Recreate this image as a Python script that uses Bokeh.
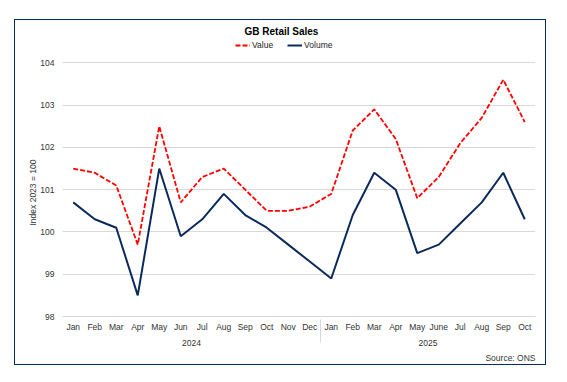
from bokeh.plotting import figure
from bokeh.models import FactorRange, Legend, LegendItem, FixedTicker, Title
from bokeh.embed import file_html
from bokeh.resources import INLINE

years = ["2024"] * 12 + ["2025"] * 10
months = ["Jan", "Feb", "Mar", "Apr", "May", "Jun", "Jul", "Aug", "Sep", "Oct", "Nov", "Dec",
          "Jan", "Feb", "Mar", "Apr", "May", "June", "Jul", "Aug", "Sep", "Oct"]
value = [101.5, 101.4, 101.1, 99.7, 102.5, 100.7, 101.3, 101.5, 101.0, 100.5, 100.5, 100.6,
         100.9, 102.4, 102.9, 102.2, 100.8, 101.3, 102.1, 102.7, 103.6, 102.6]
volume = [100.7, 100.3, 100.1, 98.5, 101.5, 99.9, 100.3, 100.9, 100.4, 100.1, 99.7, 99.3,
          98.9, 100.4, 101.4, 101.0, 99.5, 99.7, 100.2, 100.7, 101.4, 100.3]
y_ticks = [98, 99, 100, 101, 102, 103, 104]

FONT = "Liberation Sans"
NAVY = "#0b2a5c"
RED = "#ff0000"

factors = list(zip(years, months))

p = figure(width=532, height=346, output_backend="svg", toolbar_location=None,
           x_range=FactorRange(*factors, factor_padding=0, group_padding=0, range_padding=0),
           y_range=(98, 104.6),
           min_border_left=47, min_border_right=12, min_border_top=17, min_border_bottom=50)
p.styles = {"border": "1.5px solid " + NAVY, "position": "relative", "left": "14px", "top": "19px"}

p.title.text = "GB Retail Sales"
p.title.align = "left"
p.title.offset = 182
p.title.standoff = 2
p.title.text_font = FONT
p.title.text_font_size = "10px"
p.title.text_font_style = "bold"
p.title.text_color = "#000000"

r_val = p.line(factors, value, line_color=RED, line_width=1.8, line_dash="5 2")
r_vol = p.line(factors, volume, line_color=NAVY, line_width=2)

legend = Legend(items=[LegendItem(label="Value", renderers=[r_val]),
                       LegendItem(label="Volume", renderers=[r_vol])],
                orientation="horizontal", location=(173, 266),
                label_text_font=FONT, label_text_font_size="8.5px", label_text_color="#222222",
                glyph_width=15, glyph_height=10, label_standoff=2, spacing=14,
                padding=0, margin=0, border_line_color=None, background_fill_alpha=0,
                label_height=10)
p.add_layout(legend, "center")

p.outline_line_color = None
p.xgrid.grid_line_color = None
p.ygrid.grid_line_color = "#d9d9d9"
p.ygrid.grid_line_width = 1
p.yaxis.ticker = FixedTicker(ticks=y_ticks)
p.yaxis.axis_line_color = None
p.yaxis.major_tick_line_color = None
p.yaxis.minor_tick_line_color = None
p.yaxis.major_tick_out = 0
p.yaxis.major_tick_in = 0
p.yaxis.minor_tick_out = 0
p.yaxis.major_label_text_font = FONT
p.yaxis.major_label_text_font_size = "8.5px"
p.yaxis.major_label_text_color = "#333333"
p.yaxis.major_label_standoff = 8

ylab = Title(text="Index 2023 = 100", align="left", offset=91, standoff=0,
             text_font=FONT, text_font_size="8.5px", text_font_style="normal",
             text_color="#333333")
p.add_layout(ylab, "left")

xa = p.xaxis[0]
xa.axis_line_color = "#d9d9d9"
xa.major_tick_line_color = None
xa.minor_tick_line_color = None
xa.major_tick_out = 0
xa.major_tick_in = 0
xa.minor_tick_out = 0
xa.major_label_text_font = FONT
xa.major_label_text_font_size = "8.5px"
xa.major_label_text_color = "#333333"
xa.major_label_standoff = 5
xa.group_text_font = FONT
xa.group_text_font_size = "8.5px"
xa.group_text_color = "#333333"
xa.group_text_font_style = "normal"
xa.separator_line_color = "#d9d9d9"
xa.separator_line_width = 1

src = Title(text="Source: ONS", align="right", standoff=4, text_font=FONT,
            text_font_size="8.5px", text_font_style="normal", text_color="#333333")
p.add_layout(src, "below")

open("out.html", "w").write(file_html(p, INLINE))
